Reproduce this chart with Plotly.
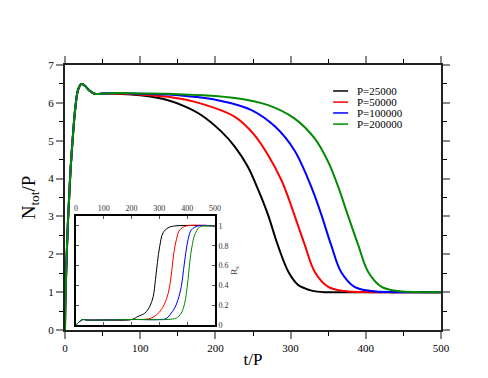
import plotly.graph_objects as go

# series names and colours
names = ["P=25000", "P=50000", "P=100000", "P=200000"]
colors = ["black", "#ff0000", "#0000ff", "#008b00"]

# main plot: N_tot/P vs t/P. early rise is shared by all runs
rise_t = [0, 0.5, 2, 4, 6, 7.5, 10.6, 13.7, 17.3, 21.7, 26, 32.8, 39.5, 52.8]
rise_n = [0, 0.8, 1.8, 2.9, 3.7, 4.27, 5.15, 5.86, 6.34, 6.5, 6.46, 6.32, 6.24, 6.25]

t_25k = [70, 100, 137, 160, 181, 208, 226, 243, 257, 270, 283, 297, 310, 319, 328, 345, 400, 500]
n_25k = [6.24, 6.2, 6.07, 5.9, 5.68, 5.24, 4.84, 4.32, 3.70, 3.04, 2.24, 1.54, 1.19, 1.1, 1.04, 1.0, 1.0, 1.0]

t_50k = [70, 100, 137, 181, 226, 252, 270, 288, 296, 305, 319, 332, 350, 372, 407, 500]
n_50k = [6.25, 6.22, 6.16, 5.98, 5.63, 5.15, 4.62, 3.95, 3.55, 3.04, 2.24, 1.54, 1.14, 1.03, 1.0, 1.0]

t_100k = [70, 100, 137, 203, 248, 279, 305, 323, 332, 341, 354, 367, 385, 407, 438, 500]
n_100k = [6.26, 6.24, 6.22, 6.07, 5.81, 5.38, 4.75, 4.0, 3.55, 3.04, 2.24, 1.54, 1.14, 1.03, 1.0, 1.0]

t_200k = [70, 100, 137, 226, 270, 305, 332, 350, 363, 376, 390, 403, 421, 443, 478, 500]
n_200k = [6.26, 6.25, 6.24, 6.13, 5.94, 5.59, 5.06, 4.44, 3.80, 3.04, 2.24, 1.54, 1.14, 1.03, 1.0, 1.0]

# inset: R_s vs t/P
rs_rise_t = [0, 8, 15, 25, 40, 100]
rs_rise_r = [0, 0.02, 0.04, 0.055, 0.05, 0.05]

rs_t_25k = [200, 224, 248, 266, 278, 286, 293, 301, 313, 331, 355, 500]
rs_r_25k = [0.055, 0.087, 0.12, 0.19, 0.29, 0.46, 0.63, 0.79, 0.93, 0.98, 1.0, 1.0]

rs_t_50k = [200, 250, 271, 289, 307, 325, 337, 345, 352, 361, 373, 397, 500]
rs_r_50k = [0.055, 0.058, 0.07, 0.10, 0.155, 0.256, 0.39, 0.56, 0.73, 0.86, 0.96, 1.0, 1.0]

rs_t_100k = [200, 300, 325, 337, 355, 367, 379, 387, 395, 403, 415, 439, 500]
rs_r_100k = [0.055, 0.055, 0.065, 0.10, 0.17, 0.256, 0.39, 0.56, 0.73, 0.86, 0.96, 1.0, 1.0]

rs_t_200k = [200, 331, 361, 379, 391, 397, 403, 409, 417, 427, 445, 475, 500]
rs_r_200k = [0.055, 0.056, 0.07, 0.12, 0.22, 0.32, 0.46, 0.63, 0.79, 0.91, 0.99, 1.0, 1.0]

main_t = [t_25k, t_50k, t_100k, t_200k]
main_n = [n_25k, n_50k, n_100k, n_200k]
ins_t = [rs_t_25k, rs_t_50k, rs_t_100k, rs_t_200k]
ins_r = [rs_r_25k, rs_r_50k, rs_r_100k, rs_r_200k]

serif = "Liberation Serif"

fig = go.Figure()

for i in range(4):
    fig.add_trace(go.Scatter(x=rise_t + main_t[i], y=rise_n + main_n[i], mode="lines",
                             line=dict(color=colors[i], width=2, shape="spline", smoothing=1.0),
                             name=names[i], showlegend=False))

for i in range(4):
    fig.add_trace(go.Scatter(x=rs_rise_t + ins_t[i], y=rs_rise_r + ins_r[i], mode="lines",
                             line=dict(color=colors[i], width=1, shape="spline", smoothing=1.0),
                             xaxis="x2", yaxis="y2", showlegend=False))

# hand-made legend (tight row spacing like the original)
leg_y = [0.902, 0.860, 0.819, 0.777]
for i in range(4):
    fig.add_shape(type="line", xref="paper", yref="paper", x0=0.713, x1=0.753,
                  y0=leg_y[i], y1=leg_y[i], line=dict(color=colors[i], width=1.5))
    fig.add_annotation(xref="paper", yref="paper", x=0.771, y=leg_y[i], text=names[i],
                       showarrow=False, xanchor="left", yanchor="middle",
                       font=dict(family=serif, size=11, color="black"))

axis_main = dict(showline=True, linecolor="#222", linewidth=2, mirror="ticks",
                 ticks="outside", ticklen=7, tickwidth=2, tickcolor="#888",
                 showgrid=False, zeroline=False,
                 tickfont=dict(family=serif, size=11, color="black"))

fig.update_layout(
    width=488, height=378,
    font=dict(family=serif, color="black"),
    margin=dict(l=57, r=55, t=57, b=56),
    plot_bgcolor="white", paper_bgcolor="white",
    xaxis=dict(axis_main, range=[0, 500], dtick=100,
               minor=dict(dtick=50, ticks="outside", ticklen=4, tickcolor="black", tickwidth=1),
               title=dict(text="t/P", font=dict(family=serif, size=17, color="black"), standoff=0)),
    yaxis=dict(axis_main, range=[0, 7], dtick=1,
               minor=dict(dtick=0.5, ticks="outside", ticklen=4, tickcolor="black", tickwidth=1),
               title=dict(text="N<sub>tot</sub>/P", font=dict(family=serif, size=19, color="black"), standoff=8)),
    xaxis2=dict(domain=[0.029, 0.399], anchor="y2", side="top", range=[0, 500], dtick=100,
                showline=True, linecolor="black", linewidth=2, mirror="ticks",
                ticks="inside", ticklen=3, tickcolor="#555", showgrid=False, zeroline=False,
                tickfont=dict(family=serif, size=8, color="#333")),
    yaxis2=dict(domain=[0.019, 0.430], anchor="x2", side="right", range=[0, 1.1],
                tickvals=[0, 0.2, 0.4, 0.6, 0.8, 1], ticktext=["0", "0.2", "0.4", "0.6", "0.8", "1"],
                showline=True, linecolor="black", linewidth=2, mirror="ticks",
                ticks="inside", ticklen=3, tickcolor="#555", showgrid=False, zeroline=False,
                tickfont=dict(family=serif, size=8, color="#333"),
                title=dict(text="R<sub>s</sub>", font=dict(family=serif, size=9, color="#333"), standoff=2)),
)

fig.write_html("out.html")
